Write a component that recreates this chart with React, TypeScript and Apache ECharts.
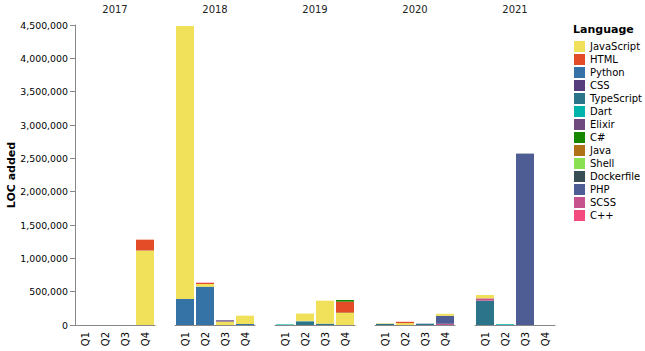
import React, { useEffect, useRef } from "react";
import * as echarts from "echarts";

const years = ["2017", "2018", "2019", "2020", "2021"];
const quarters = ["Q1", "Q2", "Q3", "Q4"];
const yTicks = [0, 500000, 1000000, 1500000, 2000000, 2500000, 3000000, 3500000, 4000000, 4500000];

const legendOrder = ["JavaScript", "HTML", "Python", "CSS", "TypeScript", "Dart", "Elixir", "C#", "Java", "Shell", "Dockerfile", "PHP", "SCSS", "C++"];
const legendColors = ["#f1e05a", "#e34c26", "#3572a5", "#563d7c", "#2b7489", "#00b4ab", "#6e4a7e", "#178600", "#b07219", "#89e051", "#384d54", "#4f5d95", "#c6538c", "#f34b7d"];

// values per language, year-major: 2017 Q1..Q4, 2018 Q1..Q4, ...
const javaScriptLoc = [0, 0, 0, 1115000, 4095000, 40000, 50000, 125000, 0, 110000, 345000, 180000, 8000, 28000, 0, 30000, 50000, 0, 0, 0];
const htmlLoc = [0, 0, 0, 160000, 0, 15000, 0, 0, 0, 0, 0, 160000, 0, 20000, 0, 0, 0, 0, 0, 0];
const pythonLoc = [0, 0, 0, 0, 390000, 575000, 0, 15000, 0, 8000, 0, 0, 0, 0, 0, 0, 0, 0, 0, 0];
const cssLoc = [0, 0, 0, 0, 0, 0, 15000, 0, 0, 0, 0, 0, 0, 0, 0, 0, 0, 0, 0, 0];
const typeScriptLoc = [0, 0, 0, 0, 0, 0, 0, 0, 0, 50000, 20000, 0, 18000, 0, 20000, 0, 365000, 0, 0, 0];
const dartLoc = [0, 0, 0, 0, 0, 0, 0, 0, 9000, 0, 0, 0, 0, 0, 0, 0, 0, 12000, 0, 0];
const elixirLoc = [0, 0, 0, 0, 0, 0, 5000, 0, 0, 0, 0, 0, 0, 0, 0, 0, 0, 0, 0, 0];
const cSharpLoc = [0, 0, 0, 0, 0, 0, 0, 0, 0, 0, 0, 25000, 0, 0, 0, 0, 0, 0, 0, 0];
const javaLoc = [0, 0, 0, 5000, 0, 0, 0, 0, 0, 0, 0, 10000, 0, 0, 0, 0, 0, 0, 0, 0];
const shellLoc = [0, 0, 0, 0, 0, 0, 0, 0, 0, 4000, 0, 0, 0, 0, 0, 0, 0, 0, 0, 0];
const dockerfileLoc = [0, 0, 0, 0, 0, 0, 0, 0, 0, 0, 0, 0, 0, 0, 0, 0, 0, 0, 3000, 0];
const phpLoc = [0, 0, 0, 0, 0, 0, 0, 0, 0, 0, 0, 0, 0, 0, 0, 120000, 0, 0, 2570000, 0];
const scssLoc = [0, 0, 0, 0, 0, 0, 0, 0, 0, 0, 0, 0, 0, 0, 0, 18000, 35000, 0, 0, 0];
const cppLoc = [0, 0, 0, 0, 0, 5000, 0, 0, 0, 0, 0, 0, 0, 0, 0, 0, 0, 0, 0, 0];

const valuesByLanguage: Record<string, number[]> = {
  JavaScript: javaScriptLoc,
  HTML: htmlLoc,
  Python: pythonLoc,
  CSS: cssLoc,
  TypeScript: typeScriptLoc,
  Dart: dartLoc,
  Elixir: elixirLoc,
  "C#": cSharpLoc,
  Java: javaLoc,
  Shell: shellLoc,
  Dockerfile: dockerfileLoc,
  PHP: phpLoc,
  SCSS: scssLoc,
  "C++": cppLoc,
};

const FONT = "DejaVu Sans";

export default function App() {
  const ref = useRef<HTMLDivElement>(null);

  useEffect(() => {
    if (!ref.current) return;
    const chart = echarts.init(ref.current, null, { renderer: "svg" });

    // stack order bottom -> top: descending code-point order of names
    const stackOrder = [...legendOrder].sort((a, b) => (a < b ? 1 : a > b ? -1 : 0));

    const grids = years.map((_, i) => ({
      left: 75 + 100 * i,
      top: 25,
      width: 80,
      height: 300,
    }));

    const xAxes = years.map((y, i) => ({
      type: "category",
      gridIndex: i,
      data: quarters,
      position: "bottom",
      axisLine: { lineStyle: { color: "#888", width: 1 } },
      axisTick: { alignWithLabel: true, length: 5, lineStyle: { color: "#888" } },
      axisLabel: { rotate: 90, fontSize: 10, color: "#000", fontFamily: FONT, margin: 7 },
      splitLine: { show: false },
    }));

    const yAxes = years.map((_, i) => ({
      type: "value",
      gridIndex: i,
      min: 0,
      max: yTicks[yTicks.length - 1],
      interval: yTicks[1] - yTicks[0],
      show: i === 0,
      name: i === 0 ? "LOC added" : "",
      nameLocation: "middle",
      nameGap: 58,
      nameMoveOverlap: false,
      nameTextStyle: { fontSize: 11, fontWeight: "bold", color: "#000", fontFamily: FONT },
      axisLine: { show: true, lineStyle: { color: "#888", width: 1 } },
      axisTick: { show: true, length: 5, lineStyle: { color: "#888" } },
      axisLabel: {
        fontSize: 9.4,
        color: "#000",
        fontFamily: FONT,
        margin: 7,
        formatter: (v: number) => v.toLocaleString("en-US"),
      },
      splitLine: { show: false },
    }));

    const series: any[] = [];
    stackOrder.forEach((lang) => {
      const color = legendColors[legendOrder.indexOf(lang)];
      const vals = valuesByLanguage[lang];
      years.forEach((_, i) => {
        series.push({
          type: "bar",
          name: lang,
          xAxisIndex: i,
          yAxisIndex: i,
          stack: "s" + i,
          barCategoryGap: "10%",
          itemStyle: { color },
          data: vals.slice(i * 4, i * 4 + 4),
        });
      });
    });

    const yearTitles = years.map((y, i) => ({
      type: "text",
      x: 115 + 100 * i,
      y: 9,
      style: {
        text: y,
        fontSize: 10,
        fontWeight: "normal",
        fontFamily: FONT,
        fill: "#222",
        align: "center",
        verticalAlign: "middle",
      },
    }));

    chart.setOption({
      animation: false,
      textStyle: { fontFamily: FONT },
      legend: {
        data: legendOrder,
        orient: "vertical",
        left: 574,
        top: 41,
        padding: 0,
        itemWidth: 11,
        itemHeight: 11,
        itemGap: 2,
        icon: "rect",
        selectedMode: false,
        textStyle: { fontSize: 10, color: "#000", fontFamily: FONT, lineHeight: 11 },
      },
      graphic: [
        ...yearTitles,
        {
          type: "text",
          left: 573,
          top: 24,
          style: { text: "Language", fontSize: 11, fontWeight: "bold", fontFamily: FONT, fill: "#000" },
        },
      ],
      grid: grids,
      xAxis: xAxes,
      yAxis: yAxes,
      series,
    });

    return () => chart.dispose();
  }, []);

  return (
    <div
      ref={ref}
      style={{ position: "absolute", left: 0, top: 0, width: 645, height: 351 }}
    />
  );
}
